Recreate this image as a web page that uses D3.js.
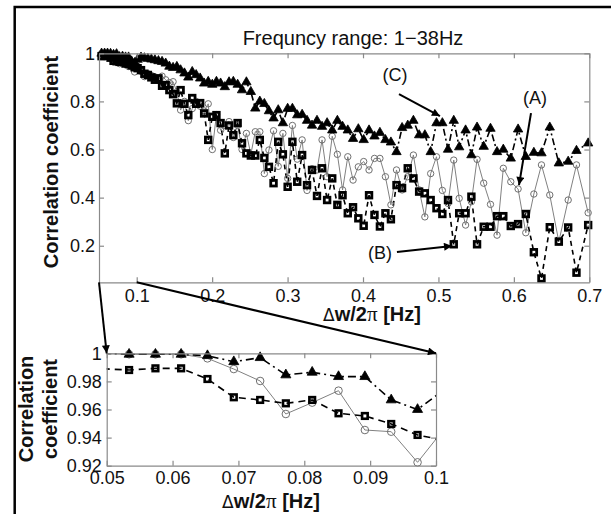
<!DOCTYPE html>
<html><head><meta charset="utf-8">
<script src="https://cdn.jsdelivr.net/npm/d3@7"></script>
<style>body{margin:0;background:#fff} svg{display:block;font-family:"Liberation Sans",Arial,sans-serif}</style>
</head><body>
<svg id="c" width="611" height="514"></svg>
<script>
// ---- data ----
const xVals = [
 0.0494,0.0534,0.0574,0.0613,0.0653,0.0693,0.0733,0.0772,0.0812,0.0852,0.0892,0.0932,0.0972,0.1012,
 0.1057,0.1102,0.1148,0.1194,0.1241,0.1288,0.1336,0.1384,0.1433,0.1482,0.1532,0.1582,0.1633,0.1684,0.1736,0.1788,0.1841,0.1894,0.1948,0.2002,
 0.2057,0.2112,0.2168,0.2224,0.2281,0.2338,0.2396,0.2454,0.2513,0.2572,0.2632,0.2692,0.2753,0.2814,0.2876,0.2938,0.3001,0.3064,0.3128,
 0.3193,0.3258,0.3324,0.339,0.3457,0.3524,0.3592,0.366,0.3729,0.3798,0.3868,0.3938,0.4009,0.408,0.4152,0.4224,0.4297,0.437,0.4444,0.4518,
 0.4593,0.4668,0.4744,0.482,0.4897,0.4974,0.5052,
 0.5127,0.5203,0.5275,0.536,0.5437,0.5512,0.56,0.569,0.5777,0.586,0.5959,0.6056,0.6158,0.6265,0.6366,0.6476,0.6596,0.672,0.683,0.6985
];
// (A) open circles, solid grey line
const seriesA = [
 1.0,0.9993,0.9993,0.9993,0.9964,0.9888,0.9803,0.9568,0.9649,0.9734,0.9454,0.9442,0.9224,0.946,
 0.925,0.903,0.915,0.908,0.902,0.895,0.905,0.89,0.878,0.882,0.84,0.764,0.80,0.72,0.77,0.80,0.78,0.76,0.79,0.60,
 0.745,0.68,0.70,0.716,0.65,0.70,0.60,0.667,0.58,0.674,0.674,0.50,0.598,0.678,0.53,0.667,0.48,0.70,0.56,
 0.64,0.43,0.52,0.515,0.64,0.487,0.655,0.58,0.432,0.57,0.473,0.528,0.55,0.515,0.563,0.563,0.487,0.37,0.515,0.432,
 0.487,0.577,0.432,0.32,0.50,0.57,0.43,
 0.376,0.556,0.397,0.286,0.383,0.559,0.46,0.372,0.244,0.522,0.466,0.436,0.254,0.415,0.536,0.411,0.217,0.39,0.536,0.337
];
// (B) squares, dashed line
const seriesB = [
 0.989,0.9881,0.9893,0.9893,0.9817,0.9687,0.9668,0.9644,0.9668,0.9573,0.9554,0.9497,0.9419,0.938,
 0.93,0.915,0.91,0.90,0.89,0.896,0.865,0.868,0.847,0.83,0.792,0.847,0.79,0.743,0.814,0.79,0.793,0.75,0.64,0.736,
 0.743,0.71,0.584,0.70,0.66,0.71,0.626,0.584,0.575,0.575,0.64,0.565,0.528,0.46,0.632,0.58,0.445,0.632,0.466,
 0.577,0.452,0.515,0.407,0.522,0.39,0.48,0.37,0.41,0.335,0.36,0.314,0.283,0.41,0.328,0.28,0.335,0.31,0.452,0.44,
 0.522,0.48,0.425,0.418,0.39,0.356,0.332,
 0.39,0.206,0.335,0.335,0.404,0.206,0.279,0.279,0.323,0.323,0.282,0.29,0.332,0.173,0.064,0.277,0.217,0.276,0.088,0.286
];
// (C) filled triangles, dash-dot line
const seriesC = [
 1.0,0.9993,0.9993,0.9993,0.9983,0.994,0.9969,0.9846,0.9865,0.9834,0.9834,0.9668,0.960,0.974,
 0.983,0.98,0.978,0.975,0.972,0.968,0.965,0.958,0.945,0.94,0.944,0.93,0.917,0.90,0.923,0.91,0.896,0.875,0.882,0.87,
 0.882,0.875,0.86,0.88,0.882,0.87,0.847,0.88,0.84,0.771,0.80,0.79,0.76,0.73,0.764,0.71,0.77,0.77,0.743,
 0.745,0.72,0.70,0.72,0.695,0.71,0.68,0.72,0.695,0.68,0.645,0.685,0.64,0.68,0.655,0.67,0.64,0.63,0.59,0.69,
 0.70,0.72,0.66,0.66,0.59,0.71,0.71,
 0.60,0.72,0.61,0.68,0.577,0.692,0.612,0.687,0.59,0.60,0.563,0.684,0.57,0.587,0.585,0.692,0.543,0.55,0.595,0.626
];
const mainXTicks = [0.1,0.2,0.3,0.4,0.5,0.6,0.7];
const mainYTicks = [0.2,0.4,0.6,0.8,1];
const insetXTicks = [0.05,0.06,0.07,0.08,0.09,0.1];
const insetYTicks = [0.92,0.94,0.96,0.98,1];
const titleText = "Frequncy range: 1\u221238Hz";
const yLabelText = "Correlation coefficient";
const insetYLabelLines = ["Correlation","coefficient"];
// annotation labels and arrows, in data coordinates of the main plot
const annLabels = ["(C)","(A)","(B)"];
const annLabelPos = [[0.4424,0.91],[0.628,0.814],[0.4225,0.169]];
const annArrowFrom = [[0.4477,0.83],[0.6227,0.751],[0.445,0.174]];
const annArrowTo = [[0.502,0.739],[0.6068,0.452],[0.518,0.199]];

// ---- layout ----
const svg = d3.select("#c");
const M = {x0:99, x1:589.3, y0:53.3, y1:282.3};
const I = {x0:106.7, x1:436, y0:353.3, y1:465.7};
const xMain = d3.scaleLinear().domain([0.05,0.7]).range([M.x0,M.x1]);
const yMain = d3.scaleLinear().domain([0.048,1]).range([M.y1,M.y0]);
const xIn = d3.scaleLinear().domain([0.05,0.1]).range([I.x0,I.x1]);
const yIn = d3.scaleLinear().domain([0.92,1]).range([I.y1,I.y0]);

// outer frame
svg.append("rect").attr("x",14.7).attr("y",7).attr("width",700).attr("height",600)
  .attr("fill","none").attr("stroke","#000").attr("stroke-width",2.5);

const defs = svg.append("defs");
defs.append("clipPath").attr("id","clipMain").append("rect")
  .attr("x",M.x0).attr("y",M.y0).attr("width",M.x1-M.x0).attr("height",M.y1-M.y0);
defs.append("clipPath").attr("id","clipIn").append("rect")
  .attr("x",I.x0).attr("y",I.y0).attr("width",I.x1-I.x0).attr("height",I.y1-I.y0);
defs.append("marker").attr("id","ah").attr("viewBox","0 0 10 10").attr("refX",10).attr("refY",5)
  .attr("markerWidth",10).attr("markerHeight",8).attr("markerUnits","userSpaceOnUse").attr("orient","auto")
  .append("path").attr("d","M0,0 L10,5 L0,10 Z").attr("fill","#000");

function drawAxes(g, xs, ys, xt, yt, fs, padB, padL) {
  const axCol = "#8a8a8a";
  const b = g.append("g").attr("transform",`translate(0,${ys.range()[0]})`)
    .call(d3.axisBottom(xs).tickValues(xt).tickSizeInner(-5).tickSizeOuter(0).tickPadding(padB).tickFormat(d=>String(d)));
  const t = g.append("g").attr("transform",`translate(0,${ys.range()[1]})`)
    .call(d3.axisTop(xs).tickValues(xt).tickSizeInner(-5).tickSizeOuter(0).tickFormat(""));
  const l = g.append("g").attr("transform",`translate(${xs.range()[0]},0)`)
    .call(d3.axisLeft(ys).tickValues(yt).tickSizeInner(-5).tickSizeOuter(0).tickPadding(padL).tickFormat(d=>String(d)));
  const r = g.append("g").attr("transform",`translate(${xs.range()[1]},0)`)
    .call(d3.axisRight(ys).tickValues(yt).tickSizeInner(-5).tickSizeOuter(0).tickFormat(""));
  [b,t,l,r].forEach(a=>{
    a.select(".domain").attr("stroke",axCol).attr("stroke-width",1.2);
    a.selectAll(".tick line").attr("stroke",axCol).attr("stroke-width",1.2);
    a.selectAll("text").attr("font-size",fs).attr("fill","#111")
      .attr("font-family","'Liberation Sans',Arial,sans-serif");
  });
}

function drawSeries(g, xs, ys, clipId, sizes) {
  const pts = s => xVals.map((x,i)=>[x,s[i]]);
  const lg = g.append("g").attr("clip-path",`url(#${clipId})`);
  const line = d3.line().x(d=>xs(d[0])).y(d=>ys(d[1]));
  lg.append("path").attr("d",line(pts(seriesA))).attr("fill","none").attr("stroke","#808080").attr("stroke-width",1);
  lg.append("path").attr("d",line(pts(seriesB))).attr("fill","none").attr("stroke","#000").attr("stroke-width",sizes.lw).attr("stroke-dasharray",sizes.dash);
  lg.append("path").attr("d",line(pts(seriesC))).attr("fill","none").attr("stroke","#000").attr("stroke-width",sizes.lw).attr("stroke-dasharray",sizes.dashdot);
  const dom = xs.domain();
  const inside = d => d[0]>=dom[0]-1e-9 && d[0]<=dom[1]+1e-9;
  const mg = g.append("g");
  mg.selectAll("circle.a").data(pts(seriesA).filter(inside)).join("circle")
    .attr("cx",d=>xs(d[0])).attr("cy",d=>ys(d[1])).attr("r",sizes.r)
    .attr("fill","none").attr("stroke","#707070").attr("stroke-width",1);
  mg.selectAll("rect.b").data(pts(seriesB).filter(inside)).join("rect")
    .attr("x",d=>xs(d[0])-sizes.sq/2).attr("y",d=>ys(d[1])-sizes.sq/2)
    .attr("width",sizes.sq).attr("height",sizes.sq)
    .attr("fill","none").attr("stroke","#000").attr("stroke-width",sizes.sqw);
  const tri = d3.symbol().type(d3.symbolTriangle).size(sizes.tri);
  mg.selectAll("path.c").data(pts(seriesC).filter(inside)).join("path")
    .attr("d",tri).attr("transform",d=>`translate(${xs(d[0])},${ys(d[1])})`)
    .attr("fill","#000").attr("stroke","#000").attr("stroke-width",0.8);
}

const gMain = svg.append("g");
drawSeries(gMain, xMain, yMain, "clipMain", {r:3.2, sq:5.6, sqw:2.8, tri:38, lw:1.6, dash:"5,4", dashdot:"7,3,2,3"});
drawAxes(gMain, xMain, yMain, mainXTicks, mainYTicks, 18, 7, 4);

const gIn = svg.append("g");
drawSeries(gIn, xIn, yIn, "clipIn", {r:3.8, sq:5.6, sqw:2.6, tri:44, lw:1.6, dash:"7,5", dashdot:"8,4,2,4"});
drawAxes(gIn, xIn, yIn, insetXTicks, insetYTicks, 18, 6, 5);

// title
svg.append("text").attr("x",353).attr("y",45).attr("text-anchor","middle")
  .attr("font-size",20).attr("fill","#111").text(titleText);

// axis labels
function xLabel(cx, cy) {
  const t = svg.append("text").attr("x",cx).attr("y",cy).attr("text-anchor","middle")
    .attr("font-size",20).attr("fill","#111");
  t.append("tspan").attr("font-family","'DejaVu Sans',sans-serif").attr("font-size",17).text("\u0394");
  t.append("tspan").attr("font-weight","bold").text("w/2");
  t.append("tspan").attr("font-family","'Liberation Serif',serif").attr("font-size",21).text("\u03c0");
  t.append("tspan").attr("font-weight","bold").text(" [Hz]");
}
xLabel(372, 321);
xLabel(271, 508);
svg.append("text").attr("transform",`translate(58,162) rotate(-90)`).attr("text-anchor","middle")
  .attr("font-size",20).attr("font-weight","bold").attr("fill","#111").text(yLabelText);
insetYLabelLines.forEach((s,i)=>{
  svg.append("text").attr("transform",`translate(${33+i*24},409) rotate(-90)`).attr("text-anchor","middle")
    .attr("font-size",20).attr("font-weight","bold").attr("fill","#111").text(s);
});

// zoom connector lines (main plot range -> inset)
const zoomXs = [0.05,0.1];
zoomXs.forEach(zx=>{
  svg.append("line").attr("x1",xMain(zx)).attr("y1",yMain(0.048))
    .attr("x2",xIn(zx)).attr("y2",yIn(1)).attr("stroke","#000").attr("stroke-width",2)
    .attr("marker-end","url(#ah)");
});

// annotations
annLabels.forEach((s,i)=>{
  svg.append("text").attr("x",xMain(annLabelPos[i][0])).attr("y",yMain(annLabelPos[i][1]))
    .attr("dy","0.35em").attr("text-anchor","middle").attr("font-size",18).attr("fill","#111").text(s);
  svg.append("line").attr("x1",xMain(annArrowFrom[i][0])).attr("y1",yMain(annArrowFrom[i][1]))
    .attr("x2",xMain(annArrowTo[i][0])).attr("y2",yMain(annArrowTo[i][1]))
    .attr("stroke","#000").attr("stroke-width",2).attr("marker-end","url(#ah)");
});
</script>
</body></html>
